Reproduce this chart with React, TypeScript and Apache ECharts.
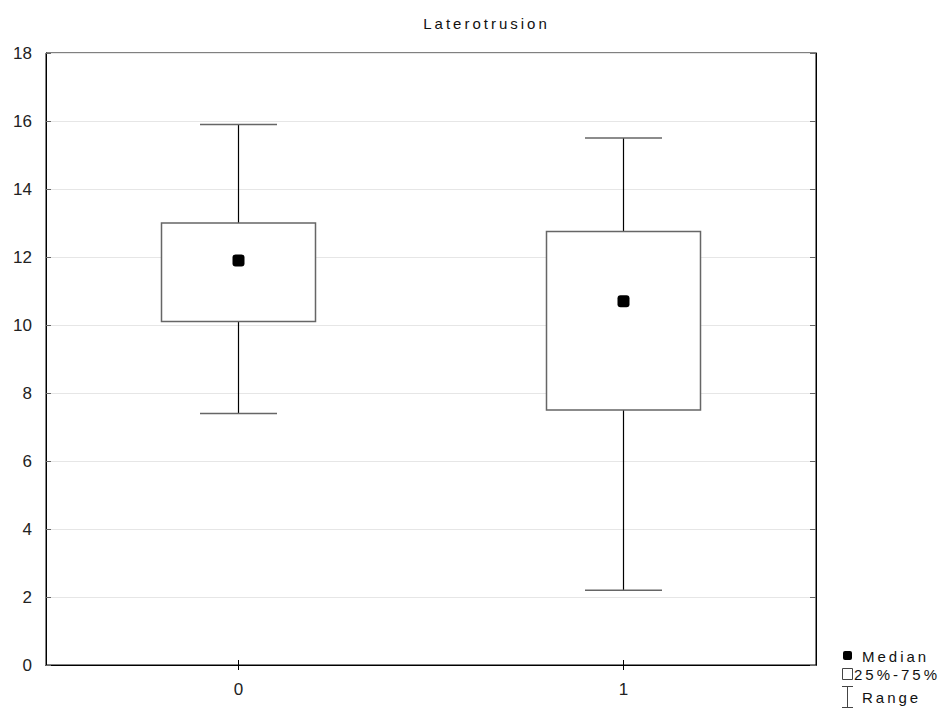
import React, { useEffect, useRef } from "react";
import * as echarts from "echarts";

const categories = ["0", "1"];
const minValues = [7.4, 2.2];
const q1Values = [10.1, 7.5];
const medianValues = [11.9, 10.7];
const q3Values = [13.0, 12.75];
const maxValues = [15.9, 15.5];
const yTicks = { min: 0, max: 18, interval: 2 };
const titleText = "Laterotrusion";
const legendItems = ["Median", "25%-75%", "Range"];

const FONT = "'Liberation Sans', Arial, sans-serif";
const spaced = (s: string) => s.split("").join("\u2009");

export default function App() {
  const ref = useRef<HTMLDivElement>(null);
  useEffect(() => {
    if (!ref.current) return;
    const chart = echarts.init(ref.current, undefined, { renderer: "svg" });
    const boxData = categories.map((_, i) => [
      i,
      minValues[i],
      q1Values[i],
      medianValues[i],
      q3Values[i],
      maxValues[i],
    ]);
    const medianData = categories.map((c, i) => [i, medianValues[i]]);

    const legendX = 842;
    const legendTextX = 862;
    const legendTextStyle = {
      fill: "#111",
      font: `15px ${FONT}`,
      textVerticalAlign: "middle",
    };

    chart.setOption({
      animation: false,
      backgroundColor: "#fff",
      title: {
        text: spaced(titleText),
        left: 480,
        top: 11,
        textAlign: "center",
        textStyle: {
          fontFamily: FONT,
          fontSize: 15,
          fontWeight: "normal",
          color: "#111",
        },
      },
      grid: {
        left: 46,
        right: 136,
        top: 53,
        bottom: 52,
        show: true,
        borderColor: "#000",
        borderWidth: 1,
        backgroundColor: "transparent",
      },
      xAxis: [
        {
          type: "category",
          data: categories,
          boundaryGap: true,
          axisLine: { show: true, lineStyle: { color: "#000", width: 1 } },
          axisTick: { show: true, inside: true, alignWithLabel: true, length: 5, lineStyle: { color: "#000" } },
          axisLabel: { fontFamily: FONT, fontSize: 17, color: "#222", margin: 16 },
          splitLine: { show: false },
        },
        {
          type: "category",
          data: categories,
          position: "top",
          boundaryGap: true,
          axisLine: { show: true, lineStyle: { color: "#000", width: 1 } },
          axisTick: { show: true, inside: true, alignWithLabel: true, length: 5, lineStyle: { color: "#000" } },
          axisLabel: { show: false },
          splitLine: { show: false },
        },
      ],
      yAxis: [
        {
          type: "value",
          min: yTicks.min,
          max: yTicks.max,
          interval: yTicks.interval,
          axisLine: { show: true, lineStyle: { color: "#000", width: 1 } },
          axisTick: { show: true, inside: true, length: 5, lineStyle: { color: "#666" } },
          axisLabel: { fontFamily: FONT, fontSize: 17, color: "#222", margin: 14 },
          splitLine: { show: true, lineStyle: { color: "#e6e6e6", width: 1 } },
        },
        {
          type: "value",
          position: "right",
          min: yTicks.min,
          max: yTicks.max,
          interval: yTicks.interval,
          axisLine: { show: true, lineStyle: { color: "#000", width: 1 } },
          axisTick: { show: true, inside: true, length: 6, lineStyle: { color: "#666" } },
          axisLabel: { show: false },
          splitLine: { show: false },
        },
      ],
      series: [
        {
          type: "custom",
          xAxisIndex: 0,
          yAxisIndex: 0,
          data: boxData,
          encode: { x: 0, y: [1, 2, 3, 4, 5] },
          renderItem: (params: any, api: any) => {
            const idx = api.value(0);
            const band = api.size([1, 0])[0];
            const boxW = band * 0.4;
            const capW = band * 0.2;
            const pMin = api.coord([idx, api.value(1)]);
            const pQ1 = api.coord([idx, api.value(2)]);
            const pQ3 = api.coord([idx, api.value(4)]);
            const pMax = api.coord([idx, api.value(5)]);
            const cx = pMin[0];
            return {
              type: "group",
              children: [
                {
                  type: "line",
                  shape: { x1: cx, y1: pMax[1], x2: cx, y2: pQ3[1] },
                  style: { stroke: "#000", lineWidth: 1.2 },
                },
                {
                  type: "line",
                  shape: { x1: cx, y1: pQ1[1], x2: cx, y2: pMin[1] },
                  style: { stroke: "#000", lineWidth: 1.2 },
                },
                {
                  type: "line",
                  shape: { x1: cx - capW / 2, y1: pMax[1], x2: cx + capW / 2, y2: pMax[1] },
                  style: { stroke: "#666", lineWidth: 1.5 },
                },
                {
                  type: "line",
                  shape: { x1: cx - capW / 2, y1: pMin[1], x2: cx + capW / 2, y2: pMin[1] },
                  style: { stroke: "#666", lineWidth: 1.5 },
                },
                {
                  type: "rect",
                  shape: { x: cx - boxW / 2, y: pQ3[1], width: boxW, height: pQ1[1] - pQ3[1] },
                  style: { fill: "#fff", stroke: "#666", lineWidth: 1.5 },
                },
              ],
            };
          },
          z: 2,
        },
        {
          type: "scatter",
          xAxisIndex: 0,
          yAxisIndex: 0,
          data: medianData,
          symbol: "roundRect",
          symbolSize: 12,
          itemStyle: { color: "#000", opacity: 1 },
          z: 3,
        },
      ],
      graphic: [
        {
          type: "rect",
          shape: { x: legendX + 1, y: 651, width: 9, height: 9, r: 2 },
          style: { fill: "#000" },
        },
        {
          type: "text",
          x: legendTextX,
          y: 656,
          style: { text: spaced(legendItems[0]), ...legendTextStyle },
        },
        {
          type: "rect",
          shape: { x: legendX + 0.5, y: 668.5, width: 10, height: 11 },
          style: { fill: "#fff", stroke: "#444", lineWidth: 1 },
        },
        {
          type: "text",
          x: 854,
          y: 674,
          style: { text: spaced(legendItems[1]), ...legendTextStyle },
        },
        {
          type: "line",
          shape: { x1: legendX, y1: 686.5, x2: legendX + 11, y2: 686.5 },
          style: { stroke: "#444", lineWidth: 1 },
        },
        {
          type: "line",
          shape: { x1: legendX + 5.5, y1: 686.5, x2: legendX + 5.5, y2: 707.5 },
          style: { stroke: "#444", lineWidth: 1 },
        },
        {
          type: "line",
          shape: { x1: legendX, y1: 707.5, x2: legendX + 11, y2: 707.5 },
          style: { stroke: "#444", lineWidth: 1 },
        },
        {
          type: "text",
          x: legendTextX,
          y: 697,
          style: { text: spaced(legendItems[2]), ...legendTextStyle },
        },
      ],
    });
    return () => chart.dispose();
  }, []);

  return (
    <div
      ref={ref}
      style={{ position: "fixed", left: 0, top: 0, width: 952, height: 717 }}
    />
  );
}
